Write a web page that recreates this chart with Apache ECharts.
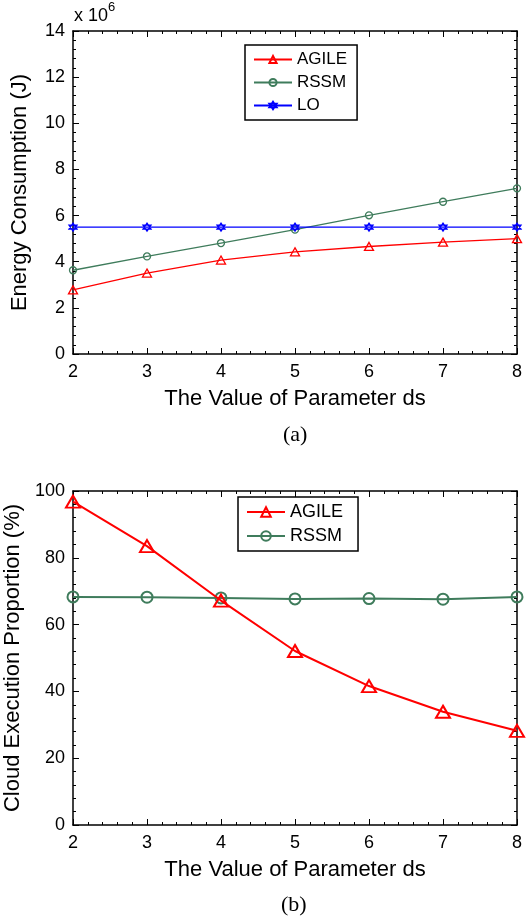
<!DOCTYPE html>
<html><head><meta charset="utf-8">
<script src="https://cdn.jsdelivr.net/npm/echarts@6/dist/echarts.min.js"></script>
<style>html,body{margin:0;padding:0;background:#fff;}#c{width:531px;height:924px;}</style>
</head><body><div id="c"></div>
<script>
const dsValues = [2, 3, 4, 5, 6, 7, 8];
const energyAGILE = [2.78, 3.51, 4.07, 4.43, 4.66, 4.85, 5.0];
const energyRSSM = [3.63, 4.23, 4.81, 5.39, 6.01, 6.6, 7.18];
const energyLO = [5.5, 5.5, 5.5, 5.5, 5.5, 5.5, 5.5];
const cloudAGILE = [96.8, 83.5, 67.2, 52.1, 41.6, 33.9, 28.2];
const cloudRSSM = [68.3, 68.2, 68.0, 67.7, 67.8, 67.6, 68.3];
const energyTicks = [0, 2, 4, 6, 8, 10, 12, 14];
const cloudTicks = [0, 20, 40, 60, 80, 100];

const RED = '#ff0000', GREEN = '#3f7c5c', BLUE = '#0000ff';
const FONT = 'Liberation Sans';
const hexagram = 'path://M0,-10 L8.66,5 L-8.66,5 Z M0,10 L8.66,-5 L-8.66,-5 Z';

function pairs(ys) { return dsValues.map((x, i) => [x, ys[i]]); }

const tickCommon = {
  axisLine: { show: true, onZero: false, lineStyle: { color: '#000', width: 1.5 } },
  axisTick: { show: true, inside: true, length: 6, lineStyle: { color: '#000', width: 1 } },
  minorTick: { show: true, splitNumber: 5, length: 3, lineStyle: { color: '#000', width: 1 } },
  splitLine: { show: false },
};

function xAxes(gi) {
  return [
    Object.assign({}, tickCommon, {
      type: 'value', gridIndex: gi, min: 2, max: 8, interval: 1, position: 'bottom',
      axisLabel: { color: '#000', fontFamily: FONT, fontSize: 18, margin: 9 },
      name: 'The Value of Parameter ds', nameLocation: 'middle', nameGap: 34,
      nameTextStyle: { color: '#000', fontFamily: FONT, fontSize: 22 }
    }),
    Object.assign({}, tickCommon, {
      type: 'value', gridIndex: gi, min: 2, max: 8, interval: 1, position: 'top',
      axisLabel: { show: false }
    })
  ];
}
function yAxes(gi, max, interval, name, gap) {
  return [
    Object.assign({}, tickCommon, {
      type: 'value', gridIndex: gi, min: 0, max: max, interval: interval, position: 'left',
      axisLabel: { color: '#000', fontFamily: FONT, fontSize: 18, margin: 8 },
      name: name, nameLocation: 'middle', nameGap: gap,
      nameTextStyle: { color: '#000', fontFamily: FONT, fontSize: 22 }
    }),
    Object.assign({}, tickCommon, {
      type: 'value', gridIndex: gi, min: 0, max: max, interval: interval, position: 'right',
      axisLabel: { show: false }
    })
  ];
}

function lineSeries(name, data, color, symbol, size, width, xi, yi, z) {
  return {
    type: 'line', name: name, data: pairs(data), xAxisIndex: xi, yAxisIndex: yi,
    symbol: symbol, symbolSize: size, showSymbol: true, z: z || 2,
    lineStyle: { color: color, width: width },
    itemStyle: { color: 'rgba(255,255,255,0)', borderColor: color, borderWidth: width },
    emphasis: { disabled: true }, animation: false
  };
}

const chart = echarts.init(document.getElementById('c'), null, { renderer: 'canvas' });
chart.setOption({
  backgroundColor: '#fff',
  animation: false,
  grid: [
    { left: 73, top: 31, width: 444, height: 323, outerBoundsMode: 'none', containLabel: false },
    { left: 73, top: 491, width: 444, height: 334, outerBoundsMode: 'none', containLabel: false }
  ],
  xAxis: xAxes(0).concat(xAxes(1)),
  yAxis: yAxes(0, 14, 2, 'Energy Consumption (J)', 42).concat(yAxes(1, 100, 20, 'Cloud Execution Proportion (%)', 49)),
  legend: [
    {
      data: ['AGILE', 'RSSM', 'LO'], left: 245, top: 45, orient: 'vertical',
      itemWidth: 38, itemHeight: 9, itemGap: 6, padding: [6, 10, 6, 8],
      borderColor: '#000', borderWidth: 1.5, backgroundColor: '#fff',
      textStyle: { color: '#000', fontFamily: FONT, fontSize: 17 },
      selectedMode: false
    },
    {
      data: ['AGILE ', 'RSSM '], left: 238, top: 497, orient: 'vertical',
      itemWidth: 38, itemHeight: 12, itemGap: 6, padding: [6, 10, 6, 8],
      borderColor: '#000', borderWidth: 1.5, backgroundColor: '#fff',
      textStyle: { color: '#000', fontFamily: FONT, fontSize: 18 },
      selectedMode: false
    }
  ],
  series: [
    lineSeries('AGILE', energyAGILE, RED, 'triangle', [9, 8], 1.3, 0, 0, 3),
    lineSeries('RSSM', energyRSSM, GREEN, 'circle', 7, 1.3, 0, 0, 2),
    lineSeries('LO', energyLO, BLUE, hexagram, 8, 1.3, 0, 0, 4),
    lineSeries('AGILE ', cloudAGILE, RED, 'triangle', [14, 12], 2, 2, 2, 3),
    lineSeries('RSSM ', cloudRSSM, GREEN, 'circle', 11, 2, 2, 2, 2)
  ],
  graphic: [
    { type: 'text', left: 74, top: 7, style: { text: 'x 10', font: '18px "Liberation Sans"', fill: '#000' } },
    { type: 'text', left: 108, top: 1, style: { text: '6', font: '13px "Liberation Sans"', fill: '#000' } },
    { type: 'text', left: 283, top: 424, style: { text: '(a)', font: '22px "Liberation Serif"', fill: '#000' } },
    { type: 'text', left: 281, top: 894, style: { text: '(b)', font: '22px "Liberation Serif"', fill: '#000' } }
  ]
});
</script></body></html>
